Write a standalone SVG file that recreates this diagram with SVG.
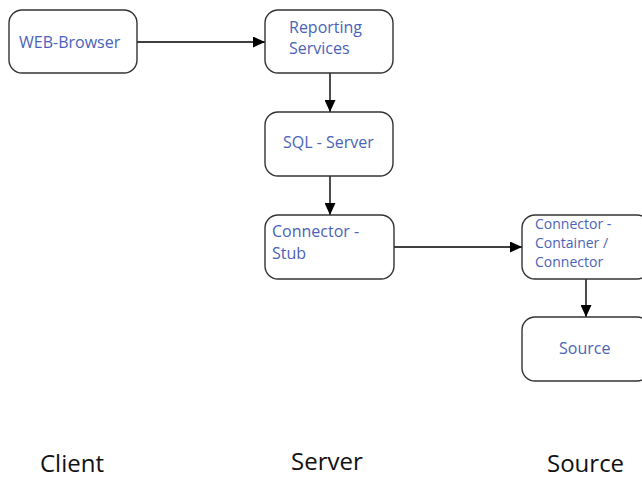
<svg xmlns="http://www.w3.org/2000/svg" width="642" height="479" viewBox="0 0 642 479">
<defs>
<marker id="arr" markerWidth="12" markerHeight="11" refX="12" refY="5.5" orient="auto" markerUnits="userSpaceOnUse">
<path d="M0,0 L12,5.5 L0,11 Z" fill="#000"/>
</marker>
<style>
.box{fill:#fff;stroke:#333;stroke-width:1.4}
.lbl{font-family:"Open Sans","Noto Sans",sans-serif;font-size:16px;fill:#4a63b8}
.sm{font-size:14px}
.col{font-family:"Open Sans","Noto Sans",sans-serif;font-size:24px;fill:#111}
.con{stroke:#000;stroke-width:1.4;fill:none}
</style>
</defs>
<rect width="642" height="479" fill="#fff"/>
<g id="connectors">
<line class="con" x1="137" y1="42" x2="265" y2="42" marker-end="url(#arr)"/>
<line class="con" x1="330" y1="73" x2="330" y2="112" marker-end="url(#arr)"/>
<line class="con" x1="330" y1="176" x2="330" y2="215" marker-end="url(#arr)"/>
<line class="con" x1="394" y1="247" x2="522" y2="247" marker-end="url(#arr)"/>
<line class="con" x1="586" y1="279" x2="586" y2="317" marker-end="url(#arr)"/>
</g>
<g id="web-browser">
<rect class="box" x="9" y="10" width="128" height="63" rx="13"/>
<text class="lbl" x="19" y="48">WEB-Browser</text>
</g>
<g id="reporting-services">
<rect class="box" x="265" y="10" width="128" height="63" rx="13"/>
<text class="lbl" x="289" y="33">Reporting</text>
<text class="lbl" x="289" y="54">Services</text>
</g>
<g id="sql-server">
<rect class="box" x="265" y="112" width="128" height="64" rx="13"/>
<text class="lbl" x="283" y="148">SQL - Server</text>
</g>
<g id="connector-stub">
<rect class="box" x="265" y="215" width="129" height="64" rx="13"/>
<text class="lbl" x="272" y="237">Connector -</text>
<text class="lbl" x="272" y="259">Stub</text>
</g>
<g id="connector-container">
<rect class="box" x="522" y="215" width="128" height="64" rx="13"/>
<text class="lbl sm" x="535" y="229">Connector -</text>
<text class="lbl sm" x="535" y="248">Container /</text>
<text class="lbl sm" x="535" y="267">Connector</text>
</g>
<g id="source">
<rect class="box" x="522" y="317" width="128" height="64" rx="13"/>
<text class="lbl" x="559" y="354">Source</text>
</g>
<g id="columns">
<text class="col" x="40" y="472">Client</text>
<text class="col" x="291" y="470">Server</text>
<text class="col" x="547" y="472">Source</text>
</g>
</svg>
